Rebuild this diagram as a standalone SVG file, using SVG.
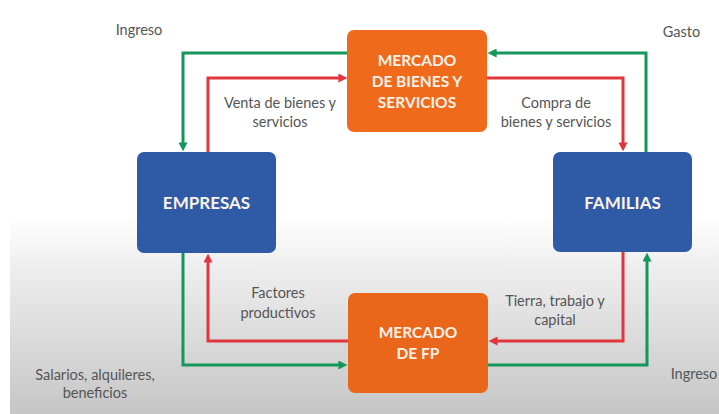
<svg xmlns="http://www.w3.org/2000/svg" width="719" height="414" viewBox="0 0 719 414">
  <defs>
    <linearGradient id="bg" x1="0" y1="0" x2="0" y2="1">
      <stop offset="0" stop-color="#ffffff"/>
      <stop offset="0.3" stop-color="#ececec"/>
      <stop offset="1" stop-color="#c6c6c6"/>
    </linearGradient>
    <marker id="ag" viewBox="0 0 10 10" refX="4" refY="5" markerWidth="9" markerHeight="9" markerUnits="userSpaceOnUse" orient="auto">
      <path d="M0,0 L10,5 L0,10 z" fill="#15965a"/>
    </marker>
    <marker id="ar" viewBox="0 0 10 10" refX="4" refY="5" markerWidth="9" markerHeight="9" markerUnits="userSpaceOnUse" orient="auto">
      <path d="M0,0 L10,5 L0,10 z" fill="#e2363f"/>
    </marker>
  </defs>
  <style>
    .blue { fill: #2f5aa6; }
    .orange { fill: #f06a1c; }
    .box-label { font-family: Lato, "Liberation Sans", sans-serif; font-weight: bold; font-size: 15.5px; fill: #fbf3ea; text-anchor: middle; }
    .big { font-size: 17px; }
    .label { font-family: Lato, "Liberation Sans", sans-serif; font-size: 14.5px; fill: #555555; text-anchor: middle; }
    .g { fill: none; stroke: #15965a; stroke-width: 3; marker-end: url(#ag); }
    .r { fill: none; stroke: #e2363f; stroke-width: 3; marker-end: url(#ar); }
  </style>
  <rect width="719" height="414" fill="#ffffff"/>
  <rect x="10" y="215" width="709" height="199" fill="url(#bg)"/>

  <g id="connectors">
    <path class="g" d="M348,53 H183 V146"/>
    <path class="r" d="M208,152 V78 H342"/>
    <path class="g" d="M646,152 V53 H493"/>
    <path class="r" d="M487,78 H623 V146"/>
    <path class="g" d="M183,253 V365 H342"/>
    <path class="r" d="M348,341 H208 V259"/>
    <path class="r" d="M623,252 V341 H494"/>
    <path class="g" d="M488,365 H647 V258"/>
  </g>

  <g id="mercado-bienes">
    <rect class="orange" x="347" y="30" width="140" height="102" rx="7"/>
    <text class="box-label" x="417" y="66">MERCADO</text>
    <text class="box-label" x="417" y="87">DE BIENES Y</text>
    <text class="box-label" x="417" y="108">SERVICIOS</text>
  </g>
  <g id="empresas">
    <rect class="blue" x="137" y="152" width="139" height="101" rx="7"/>
    <text class="box-label big" x="206.5" y="209">EMPRESAS</text>
  </g>
  <g id="familias">
    <rect class="blue" x="553" y="152" width="139" height="100" rx="7"/>
    <text class="box-label big" x="622.5" y="209">FAMILIAS</text>
  </g>
  <g id="mercado-fp">
    <rect class="orange" x="348" y="293" width="140" height="100" rx="7" style="fill:#ea661a"/>
    <text class="box-label" x="418" y="338">MERCADO</text>
    <text class="box-label" x="418" y="359">DE FP</text>
  </g>

  <g id="labels">
    <text class="label" x="139" y="35">Ingreso</text>
    <text class="label" x="681.5" y="37">Gasto</text>
    <text class="label" x="280" y="108">Venta de bienes y</text>
    <text class="label" x="280" y="127">servicios</text>
    <text class="label" x="556" y="108">Compra de</text>
    <text class="label" x="556" y="127">bienes y servicios</text>
    <text class="label" x="278" y="298">Factores</text>
    <text class="label" x="278" y="318">productivos</text>
    <text class="label" x="555" y="306">Tierra, trabajo y</text>
    <text class="label" x="555" y="325">capital</text>
    <text class="label" x="95" y="380">Salarios, alquileres,</text>
    <text class="label" x="95" y="398">beneficios</text>
    <text class="label" x="694" y="379">Ingreso</text>
  </g>
</svg>
